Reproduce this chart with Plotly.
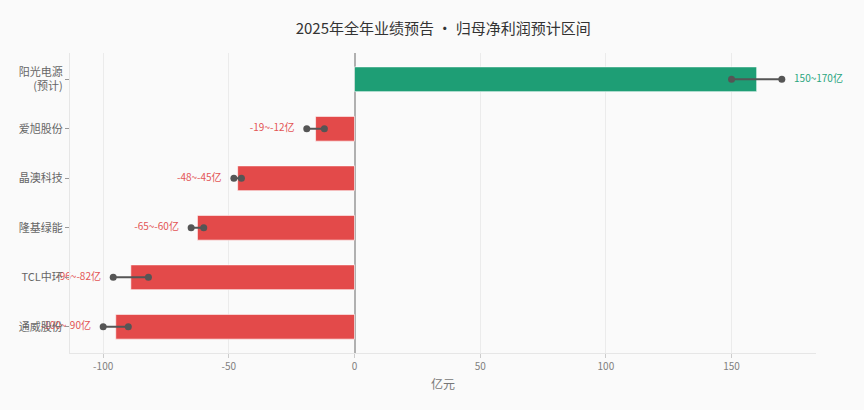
import plotly.graph_objects as go

companies = ["阳光电源<br>(预计)", "爱旭股份", "晶澳科技", "隆基绿能", "TCL中环", "通威股份"]
low = [150, -19, -48, -65, -96, -100]
high = [170, -12, -45, -60, -82, -90]
labels = ["150~170亿", "-19~-12亿", "-48~-45亿", "-65~-60亿", "-96~-82亿", "-100~-90亿"]
xticks = [-100, -50, 0, 50, 100, 150]
xticktext = ["-100", "-50", "0", "50", "100", "150"]

GREEN = "#1e9e75"
RED = "#e34a4a"
mid = [(a + b) / 2 for a, b in zip(low, high)]
colors = [GREEN if m > 0 else RED for m in mid]
txtcolors = ["#2aa57e" if m > 0 else "#e35555" for m in mid]

fig = go.Figure()
fig.add_trace(go.Bar(
    x=mid, y=companies, orientation="h", width=0.5,
    marker=dict(color=colors, line=dict(color="rgba(255,255,255,0.6)", width=1)),
    showlegend=False, hoverinfo="skip",
))

lx, ly = [], []
for c, a, b in zip(companies, low, high):
    lx += [a, b, None]
    ly += [c, c, None]
fig.add_trace(go.Scatter(
    x=lx, y=ly, mode="lines+markers",
    line=dict(color="#555555", width=2),
    marker=dict(color="#555555", size=7),
    showlegend=False, hoverinfo="skip",
))

tx = [b if m > 0 else a for a, b, m in zip(low, high, mid)]
tpos = ["middle right" if m > 0 else "middle left" for m in mid]
fig.add_trace(go.Scatter(
    x=tx, y=companies, mode="markers+text", text=labels, textposition=tpos,
    marker=dict(size=18, color="rgba(0,0,0,0)"),
    textfont=dict(color=txtcolors, size=10),
    cliponaxis=False,
    showlegend=False, hoverinfo="skip",
))

fig.update_layout(
    width=864, height=410,
    margin=dict(l=70, r=48, t=53, b=57),
    paper_bgcolor="#fafafa", plot_bgcolor="#fafafa",
    font=dict(family="Noto Sans CJK SC", color="#666666", size=11),
    title=dict(text="2025年全年业绩预告 · 归母净利润预计区间", x=0.513, xanchor="center",
               y=0.93, yanchor="middle",
               font=dict(size=15, color="#333333")),
    bargap=0.5,
)
fig.update_xaxes(
    range=[-113.2, 183.6], tickvals=xticks, ticktext=xticktext,
    showgrid=True, gridcolor="#ebebeb", gridwidth=1,
    zeroline=True, zerolinecolor="#b0b0b0", zerolinewidth=1.5,
    showline=True, linecolor="#e6e6e6", linewidth=1,
    ticks="outside", tickcolor="#cccccc", ticklen=4,
    tickfont=dict(size=10, color="#808080"),
    title=dict(text="亿元", font=dict(size=12, color="#777777"), standoff=8),
    automargin=False,
)
fig.update_yaxes(
    categoryorder="array", categoryarray=companies, autorange="reversed",
    showgrid=False, showline=True, linecolor="#e6e6e6", linewidth=1,
    ticks="outside", tickcolor="#999999", ticklen=4,
    tickfont=dict(size=11, color="#666666"),
    automargin=False,
)

fig.write_html("out.html", config={"displayModeBar": False},
               post_script="document.body.style.margin='0';document.body.style.background='#fafafa';")
